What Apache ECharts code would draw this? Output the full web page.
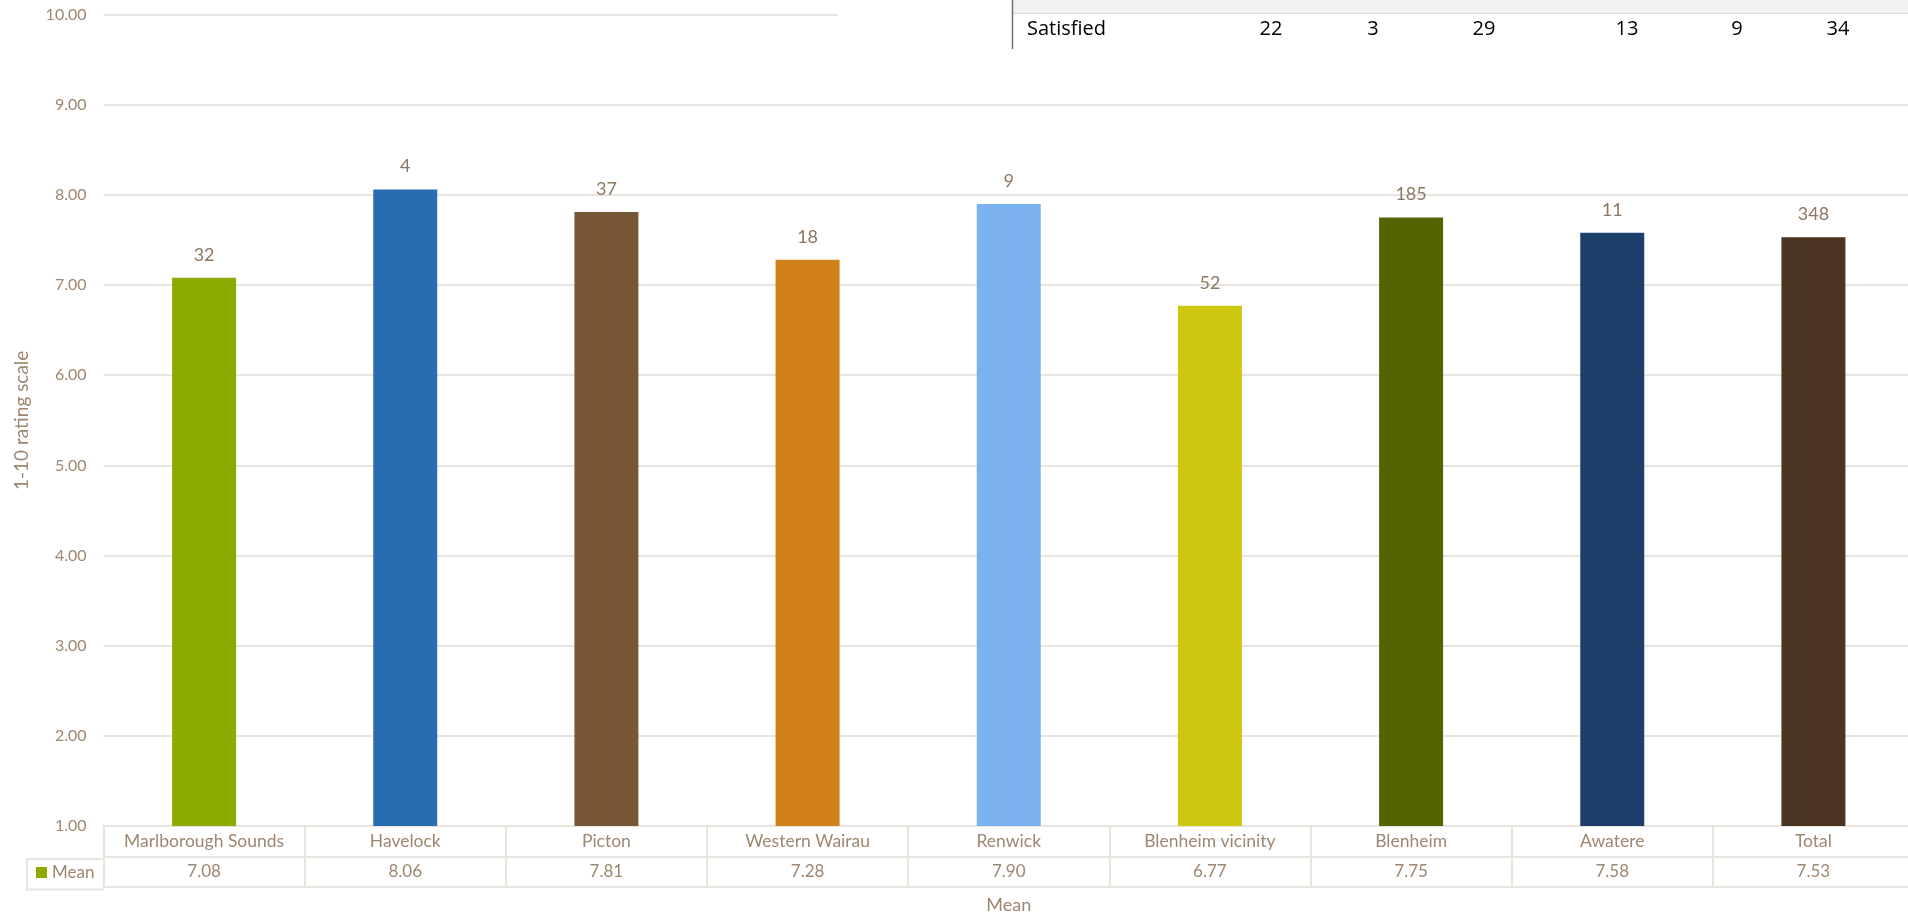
<!DOCTYPE html>
<html>
<head>
<meta charset="utf-8">
<title>Mean rating by area</title>
<script src="https://cdn.jsdelivr.net/npm/echarts@6/dist/echarts.min.js"></script>
<style>
  html, body { margin: 0; padding: 0; background: #ffffff; overflow: hidden; }
  /* the plot runs a few pixels past the right edge of the window */
  #chart { width: 1920px; height: 919px; }
</style>
</head>
<body>
<div id="chart"></div>
<script>
// Areas along the category axis
const categories = ['Marlborough Sounds', 'Havelock', 'Picton', 'Western Wairau', 'Renwick',
  'Blenheim vicinity', 'Blenheim', 'Awatere', 'Total'];
// Mean rating (1-10 scale) per area
const means = [7.08, 8.06, 7.81, 7.28, 7.90, 6.77, 7.75, 7.58, 7.53];
// Number of respondents per area, shown above each bar
const counts = [32, 4, 37, 18, 9, 52, 185, 11, 348];
// One colour per area
const barColors = ['#8CAB00', '#2A6CB1', '#785737', '#D18118', '#7BB3F0',
  '#CDC80F', '#536500', '#1C406B', '#4A3523'];
// Value axis range and step
const yMin = 1, yMax = 10, yStep = 1;
// Partial table row sitting over the top right corner
const satisfiedLabel = 'Satisfied';
const satisfiedCounts = [22, 3, 29, 13, 9, 34];
const satisfiedX = [1271, 1373, 1484, 1627, 1737, 1838];

const FONT = 'Lato, "Open Sans", sans-serif';
const TXT = '#9D8770';
const LINE = '#E9E4DD';

const chart = echarts.init(document.getElementById('chart'));

const tableLine = (x1, y1, x2, y2) => ({
  type: 'line', z: 50,
  shape: { x1, y1, x2, y2 },
  style: { stroke: LINE, lineWidth: 2 }
});

const overlay = [
  { type: 'rect', z: 100, shape: { x: 838, y: 0, width: 1082, height: 49 }, style: { fill: '#ffffff' } },
  { type: 'rect', z: 101, shape: { x: 1012, y: 0, width: 908, height: 13 }, style: { fill: '#F2F2F2' } },
  { type: 'line', z: 102, shape: { x1: 1012, y1: 13.5, x2: 1920, y2: 13.5 }, style: { stroke: '#DADADA', lineWidth: 1 } },
  { type: 'line', z: 102, shape: { x1: 1012.5, y1: 0, x2: 1012.5, y2: 49 }, style: { stroke: '#707070', lineWidth: 1.5 } },
  { type: 'text', z: 103, x: 1027, y: 29,
    style: { text: satisfiedLabel, font: '20px "Open Sans", sans-serif', fill: '#000000', verticalAlign: 'middle' } }
].concat(satisfiedCounts.map((v, i) => ({
  type: 'text', z: 103, x: satisfiedX[i], y: 29,
  style: { text: String(v), font: '20px "Open Sans", sans-serif', fill: '#000000', align: 'center', verticalAlign: 'middle' }
})));

const hiddenAxis = (offset) => ({
  type: 'category', data: categories, position: 'bottom', offset,
  axisLine: { show: true, lineStyle: { color: LINE, width: 2 } },
  axisTick: { show: false }, axisLabel: { show: false }, splitLine: { show: false }
});

chart.setOption({
  animation: false,
  backgroundColor: '#ffffff',
  textStyle: { fontFamily: FONT },
  grid: { left: 103.5, right: 6, top: 14.6, bottom: 90.4, containLabel: false },
  legend: {
    data: ['Mean'], left: 36, top: 864, padding: 0,
    icon: 'rect', itemWidth: 11, itemHeight: 11, itemGap: 5,
    textStyle: { color: TXT, fontSize: 17, fontFamily: FONT }
  },
  xAxis: [
    {
      type: 'category', data: categories, position: 'bottom',
      name: 'Mean', nameLocation: 'middle', nameGap: 70,
      nameTextStyle: { color: TXT, fontSize: 18, fontFamily: FONT },
      axisLine: { show: true, lineStyle: { color: LINE, width: 2 } },
      axisTick: { show: true, interval: 0, alignWithLabel: false, length: 61, lineStyle: { color: LINE, width: 2 } },
      axisLabel: {
        interval: 0, margin: 0,
        formatter: (v, i) => `{c|${v}}\n{m|${means[i].toFixed(2)}}`,
        rich: {
          c: { color: TXT, fontSize: 17.5, lineHeight: 30.5, fontFamily: FONT },
          m: { color: TXT, fontSize: 17, lineHeight: 30.5, fontFamily: FONT }
        }
      },
      splitLine: { show: false }
    },
    hiddenAxis(30.5),
    hiddenAxis(61)
  ],
  yAxis: {
    type: 'value', min: yMin, max: yMax, interval: yStep,
    name: '1-10 rating scale', nameLocation: 'middle', nameGap: 72, nameRotate: 90,
    nameTextStyle: { color: TXT, fontSize: 19, fontFamily: FONT },
    axisLine: { show: false }, axisTick: { show: false },
    axisLabel: { color: TXT, fontSize: 16, margin: 17, fontFamily: FONT, formatter: (v) => v.toFixed(2) },
    splitLine: { show: true, lineStyle: { color: LINE, width: 2 } }
  },
  series: [{
    name: 'Mean', type: 'bar', xAxisIndex: 0, barWidth: 64,
    itemStyle: { color: barColors[0] },
    data: means.map((v, i) => ({ value: v, itemStyle: { color: barColors[i] } })),
    label: {
      show: true, position: 'top', distance: 14,
      color: '#8C7862', fontSize: 18, fontFamily: FONT,
      formatter: (p) => String(counts[p.dataIndex])
    }
  }],
  graphic: [
    tableLine(27, 859, 104, 859),
    tableLine(27, 889.5, 104, 889.5),
    tableLine(27, 858, 27, 890.5)
  ].concat(overlay)
});
</script>
</body>
</html>
